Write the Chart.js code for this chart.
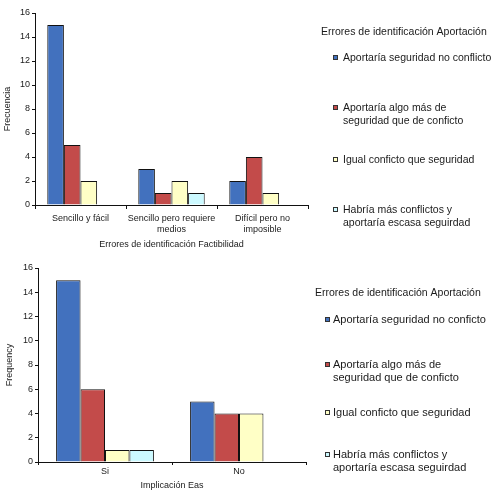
<!DOCTYPE html>
<html><head><meta charset="utf-8">
<script src="https://cdn.jsdelivr.net/npm/chart.js@4.4.1/dist/chart.umd.min.js"></script>
<style>
body{margin:0;background:#fff;width:495px;height:500px;overflow:hidden;}
canvas{position:absolute;left:0;}
</style>
</head><body>
<canvas id="c1" width="495" height="250" style="top:0"></canvas>
<canvas id="c2" width="495" height="250" style="top:250px"></canvas>
<script>
// ---- data ----
const legendTitle = 'Errores de identificación Aportación';
const seriesLabels1 = [
  ['Aportaría seguridad no conflicto'],
  ['Aportaría algo más de', 'seguridad que de conficto'],
  ['Igual conficto que seguridad'],
  ['Habría más conflictos y', 'aportaría escasa seguirdad']
];
const seriesLabels2 = [
  ['Aportaría seguridad no conficto'],
  ['Aportaría algo más de', 'seguridad que de conficto'],
  ['Igual conficto que seguridad'],
  ['Habría más conflictos y', 'aportaría escasa seguirdad']
];
const categories1 = ['Sencillo y fácil', ['Sencillo pero requiere', 'medios'], ['Difícil pero no', 'imposible']];
const values1A = [15, 3, 2];
const values1B = [5, 1, 4];
const values1C = [2, 2, 1];
const values1D = [0, 1, 0];
const xTitle1 = 'Errores de identificación Factibilidad';
const yTitle1 = 'Frecuencia';

const categories2 = ['Si', 'No'];
const values2A = [15, 5];
const values2B = [6, 4];
const values2C = [1, 4];
const values2D = [1, 0];
const xTitle2 = 'Implicación Eas';
const yTitle2 = 'Frequency';

const yTicksMax = 16;
const yTickStep = 2;

// ---- styles ----
const colors = ['#4271BE', '#C34B4A', '#FFFFC6', '#CCF9FF'];
const FONT = "'Liberation Sans', Arial, sans-serif";

const sideLegend = {
  id: 'sideLegend',
  afterDraw(chart, args, o) {
    const ctx = chart.ctx;
    ctx.save();
    ctx.textBaseline = 'middle';
    ctx.textAlign = 'left';
    ctx.fillStyle = '#1a1a1a';
    ctx.font = o.titleSize + 'px ' + FONT;
    ctx.fillText(o.title, o.titleX, o.titleY);
    ctx.font = o.itemSize + 'px ' + FONT;
    o.labels.forEach((lines, i) => {
      const y0 = o.itemY[i];
      ctx.fillStyle = colors[i];
      ctx.fillRect(o.markerX, y0 - 3, 5, 5);
      ctx.strokeStyle = '#333';
      ctx.lineWidth = 1;
      ctx.strokeRect(o.markerX + 0.5, y0 - 2.5, 4, 4);
      ctx.fillStyle = '#1a1a1a';
      lines.forEach((ln, j) => ctx.fillText(ln, o.textX, y0 + j * o.lineH));
    });
    ctx.restore();
  }
};

function makeChart(id, cats, vals, labels, xTitle, yTitle, L) {
  return new Chart(document.getElementById(id), {
    type: 'bar',
    data: {
      labels: cats,
      datasets: vals.map((v, i) => ({
        label: labels[i].join(' '),
        data: v,
        backgroundColor: colors[i],
        borderColor: '#111',
        borderWidth: 1,
        borderSkipped: 'bottom',
        categoryPercentage: 0.73,
        barPercentage: 1.0
      }))
    },
    options: {
      responsive: false,
      devicePixelRatio: 1,
      animation: false,
      events: [],
      layout: { padding: { left: 0, right: L.padRight, top: L.padTop, bottom: 0 } },
      plugins: {
        legend: { display: false },
        tooltip: { enabled: false },
        sideLegend: L.legend
      },
      scales: {
        x: {
          offset: true,
          grid: { display: true, drawOnChartArea: false, drawTicks: true, tickLength: L.xTickLen, color: '#111', offset: true },
          border: { display: true, color: '#111', width: 1 },
          ticks: { color: '#1a1a1a', font: { family: FONT, size: 9 }, padding: L.xTickPad, maxRotation: 0, autoSkip: false },
          title: { display: true, text: xTitle, color: '#1a1a1a', font: { family: FONT, size: 9 }, padding: { top: 0, bottom: L.xTitlePadB } },
          afterFit(s) { s.height = L.xHeight; }
        },
        y: {
          min: 0, max: yTicksMax,
          ticks: { stepSize: yTickStep, color: '#1a1a1a', font: { family: FONT, size: 9 }, padding: 2 },
          grid: { display: true, drawOnChartArea: false, drawTicks: true, tickLength: 3, color: '#111' },
          border: { display: true, color: '#111', width: 1 },
          title: { display: true, text: yTitle, color: '#1a1a1a', font: { family: FONT, size: 9 }, padding: { top: L.yTitlePadT, bottom: 0 } },
          afterFit(s) { s.width = L.yWidth; }
        }
      }
    },
    plugins: [sideLegend]
  });
}

makeChart('c1', categories1, [values1A, values1B, values1C, values1D], seriesLabels1, xTitle1, yTitle1, {
  padRight: 187, padTop: 13, xHeight: 45, yWidth: 35, xTickLen: 4, xTickPad: 4, xTitlePadB: 0, yTitlePadT: 2,
  legend: { title: legendTitle, titleX: 321, titleY: 32, titleSize: 10.5, itemSize: 10.5,
            markerX: 333, textX: 343, itemY: [58, 108, 160, 210], lineH: 13.5, labels: seriesLabels1 }
});
makeChart('c2', categories2, [values2A, values2B, values2C, values2D], seriesLabels2, xTitle2, yTitle2, {
  padRight: 189, padTop: 18, xHeight: 38, yWidth: 38, xTickLen: 3, xTickPad: 1, xTitlePadB: 9, yTitlePadT: 4,
  legend: { title: legendTitle, titleX: 315, titleY: 43, titleSize: 10.5, itemSize: 11,
            markerX: 325, textX: 333, itemY: [70, 115, 163, 205], lineH: 13, labels: seriesLabels2 }
});
</script>
</body></html>
